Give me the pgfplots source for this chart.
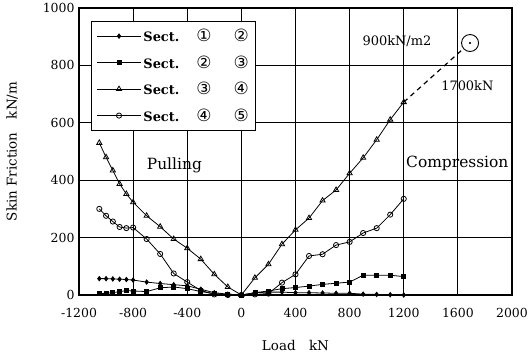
\documentclass[border=0pt]{standalone}
\usepackage{fontspec}
\setmainfont{DejaVu Serif}
\newfontfamily\circfont{DejaVu Sans}
\usepackage{pgfplots}
\pgfplotsset{compat=1.18}
\newcommand{\cd}[1]{{\circfont\fontsize{17}{17}\selectfont #1}}
\newcommand{\sect}[2]{\textbf{Sect.}\hspace{17bp}\cd{#1}\hspace{22bp}\cd{#2}}
\begin{document}
\begin{tikzpicture}
\begin{axis}[
  at={(0,0)}, anchor=south west,
  scale only axis, width=433bp, height=287bp,
  xmin=-1200, xmax=2000, ymin=0, ymax=1000,
  xtick={-1200,-800,-400,0,400,800,1200,1600,2000},
  xticklabels={-1200,-800,-400,0,400,800,1200,1600,2000},
  ytick={0,200,400,600,800,1000},
  yticklabels={0,200,400,600,800,1000},
  grid=major, major grid style={black, line width=0.8pt},
  axis line style={black, line width=1.2pt},
  tick style={draw=none},
  tick label style={font=\fontsize{12.5}{13}\selectfont},
  xticklabel style={yshift=-10bp},
  yticklabel style={xshift=-1bp},
  xlabel={Load\quad kN}, ylabel={Skin Friction\quad kN/m},
  label style={font=\fontsize{13.5}{15}\selectfont},
  xlabel style={yshift=-16bp},
  ylabel style={yshift=18bp},
  legend style={at={(rel axis cs:0.028,0.956)}, anchor=north west, draw=black, line width=1pt, fill=white,
    font=\fontsize{13}{15}\selectfont, row sep=8.5bp, inner xsep=5bp, inner ysep=6bp},
  legend cell align=left,
  legend image code/.code={\draw[mark repeat=2,mark phase=2] plot coordinates {(0bp,0bp)(22bp,0bp)(44bp,0bp)};},
]
\addplot[black, line width=0.8pt, mark=diamond*, mark size=2.2bp, mark options={fill=black}] coordinates {
(-1050,57)(-1000,57)(-950,56)(-900,55)(-850,54)(-800,52)(-700,45)(-600,40)(-500,36)(-400,32)(-300,20)(-200,8)(-100,3)(0,0)
(100,8)(200,10)(300,10)(400,8)(500,8)(600,7)(700,6)(800,6)(900,3)(1000,2)(1100,1)(1200,0)};
\addlegendentry{\sect{①}{②}}
\addplot[black, line width=0.8pt, mark=square*, mark size=2bp, mark options={fill=black}] coordinates {
(-1050,5)(-1000,6)(-950,8)(-900,12)(-850,15)(-800,14)(-700,12)(-600,25)(-500,28)(-400,22)(-300,12)(-200,5)(-100,2)(0,0)
(100,8)(200,14)(300,22)(400,26)(500,31)(600,37)(700,41)(800,45)(900,69)(1000,69)(1100,69)(1200,64)};
\addlegendentry{\sect{②}{③}}
\addplot[black, line width=0.8pt, mark=triangle, mark size=3bp, mark options={fill=white}] coordinates {
(-1050,530)(-1000,480)(-950,434)(-900,387)(-850,352)(-800,323)(-700,276)(-600,238)(-500,195)(-400,163)(-300,125)(-200,72)(-100,28)(0,0)
(100,60)(200,107)(300,177)(400,227)(500,268)(600,329)(700,366)(800,424)(900,478)(1000,541)(1100,611)(1200,672)};
\addlegendentry{\sect{③}{④}}
\addplot[black, line width=0.8pt, mark=o, mark size=2.6bp, mark options={fill=white}] coordinates {
(-1050,300)(-1000,276)(-950,256)(-900,237)(-850,233)(-800,235)(-700,195)(-600,143)(-500,75)(-400,45)(-300,16)(-200,2)(-100,0)(0,0)
(100,2)(200,5)(300,43)(400,72)(500,136)(600,142)(700,174)(800,185)(900,216)(1000,233)(1100,280)(1200,335)};
\addlegendentry{\sect{④}{⑤}}
\addplot[black, line width=1.2pt, dashed, dash pattern=on 5bp off 4bp, forget plot] coordinates {(1200,672)(1640,858)};
\addplot[black, line width=0.9pt, only marks, mark=o, mark size=8.5bp, forget plot] coordinates {(1690,878)};
\addplot[black, only marks, mark=*, mark size=0.8bp, forget plot] coordinates {(1690,878)};
\node[font=\fontsize{13}{14}\selectfont] at (axis cs:1150,885) {900kN/m2};
\node[font=\fontsize{13}{14}\selectfont] at (axis cs:1670,731) {1700kN};
\node[font=\fontsize{15.5}{17}\selectfont] at (axis cs:-495,451) {Pulling};
\node[font=\fontsize{15.5}{17}\selectfont] at (axis cs:1596,458) {Compression};
\end{axis}
\pgfresetboundingbox
\path[use as bounding box] (-79bp,-63bp) rectangle (453bp,295bp);
\end{tikzpicture}
\end{document}
